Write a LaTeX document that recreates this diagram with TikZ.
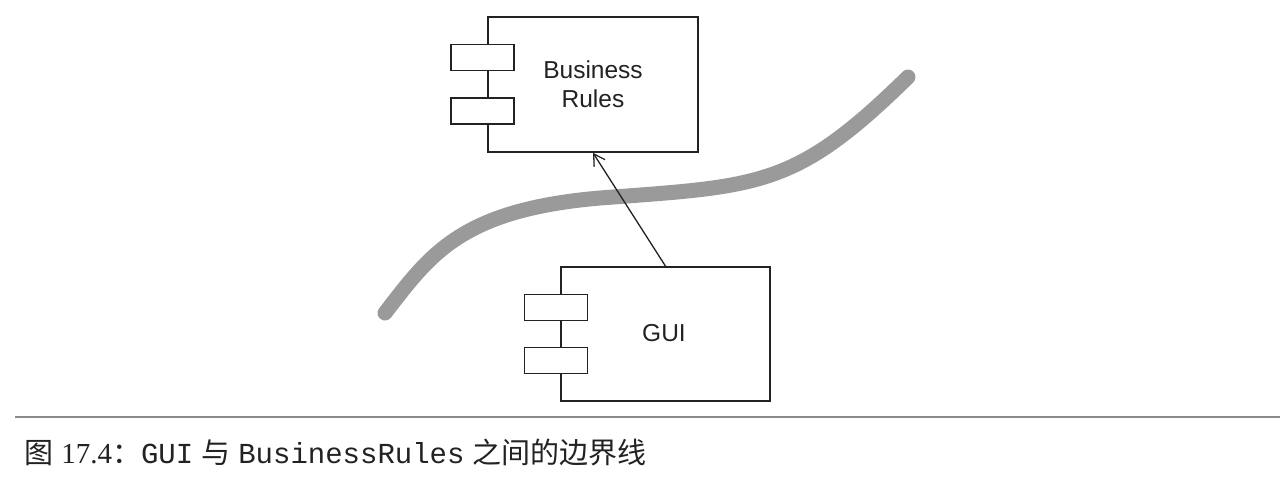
\documentclass[tikz,border=0pt]{standalone}
\usepackage{fontspec}
\setmainfont{Liberation Sans}
\newfontfamily\cjk{Noto Sans CJK SC}
\newfontfamily\capmono{Liberation Mono}
\newfontfamily\capserif{Liberation Serif}
\usetikzlibrary{arrows.meta}
\definecolor{ink}{HTML}{222222}
\definecolor{boundary}{HTML}{9A9A9A}
\definecolor{rule}{HTML}{8A8A8A}
\tikzset{
  compbox/.style={draw=ink, line width=1.7, fill=white, inner sep=0, align=center,
    font=\fontsize{24.5}{29}\selectfont, text=ink},
  portbox/.style={draw=ink, line width=1.7, fill=white, minimum width=63, minimum height=26, inner sep=0},
  depend/.style={draw=ink, line width=1.3, -{Straight Barb[length=11, width=13, line width=1.3]}},
  boundaryline/.style={draw=boundary, line width=15, line cap=round},
  caption/.style={anchor=base west, inner sep=0, text=ink, font=\fontsize{29}{34}\selectfont}
}
\begin{document}
\begin{tikzpicture}[x=1pt, y=-1pt]
\useasboundingbox (0,0) rectangle (1286,482);
% boundary curve
\draw[boundaryline] (385,313) .. controls (430,255) and (460,210) .. (600,198)
  .. controls (760,186) and (795,188) .. (908,77);
% Business Rules component
\node[compbox, minimum width=210, minimum height=135] (br) at (593,84.5) {Business\\Rules};
\node[portbox] (brp1) at (482.5,57.5) {};
\node[portbox] (brp2) at (482.5,111) {};
% GUI component
\node[compbox, minimum width=209, minimum height=134] (gui) at (665.5,334) {};
\node[text=ink, font=\fontsize{24.5}{29}\selectfont, inner sep=0] (guilabel) at (664,333) {GUI};
\node[portbox] (guip1) at (556,307.5) {};
\node[portbox] (guip2) at (556,360.5) {};
% dependency
\draw[depend] (gui.north) -- (br.south);
% caption rule
\coordinate (ruleL) at (15,417);
\coordinate (ruleR) at (1280,417);
\draw[draw=rule, line width=1.5] (ruleL) -- (ruleR);
\node[caption] (cap) at (24,463) {{\cjk 图} {\capserif 17.4}{\cjk ：}{\capmono GUI} {\cjk 与} {\capmono BusinessRules} {\cjk 之间的边界线}};
\end{tikzpicture}
\end{document}
